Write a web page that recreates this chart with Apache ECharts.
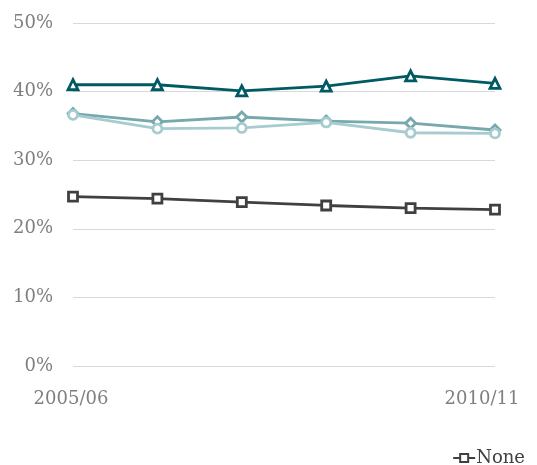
<!DOCTYPE html>
<html><head><meta charset="utf-8">
<script src="https://cdn.jsdelivr.net/npm/echarts@6/dist/echarts.min.js"></script>
<style>html,body{margin:0;padding:0;background:#fff}#c{width:537px;height:465px}</style>
</head><body><div id="c"></div>
<script>
const categories = ['2005/06','2006/07','2007/08','2008/09','2009/10','2010/11'];
const seriesA = [41.0, 41.0, 40.1, 40.8, 42.3, 41.2];   // triangles, dark teal
const seriesB = [36.8, 35.6, 36.3, 35.7, 35.4, 34.4];   // diamonds, mid teal
const seriesC = [36.6, 34.6, 34.7, 35.5, 34.0, 33.9];   // circles, light teal
const seriesNone = [24.7, 24.4, 23.9, 23.4, 23.0, 22.8]; // squares, dark grey
const yTicks = [0, 10, 20, 30, 40, 50];

const font = 'DejaVu Serif';
function mk(name, data, color, symbol, size) {
  return {
    name, type: 'line', data, symbol, symbolSize: size,
    lineStyle: { color, width: 2.8 },
    itemStyle: { color: '#fff', borderColor: color, borderWidth: 2.8 },
    z: 3
  };
}
const chart = echarts.init(document.getElementById('c'));
chart.setOption({
  animation: false,
  textStyle: { fontFamily: font },
  grid: { left: 73, right: 42, top: 23, bottom: 99, containLabel: false },
  legend: {
    data: ['None'], right: 7, top: 444, itemWidth: 22, itemHeight: 10, itemGap: 4,
    textStyle: { fontFamily: font, fontSize: 18, color: '#404040', padding: [0,0,0,-4] }
  },
  xAxis: {
    type: 'category', data: categories, boundaryGap: false,
    axisLine: { show: false }, axisTick: { show: false },
    axisLabel: {
      interval: 0, margin: 24, fontFamily: font, fontSize: 18, color: '#7f7f7f',
      formatter: (v, i) => i === 0 ? '{a|' + v + '}' : (i === categories.length - 1 ? '{b|' + v + '}' : ''),
      rich: {
        a: { fontFamily: font, fontSize: 18, color: '#7f7f7f', padding: [0, 4, 0, 0] },
        b: { fontFamily: font, fontSize: 18, color: '#7f7f7f', padding: [0, 26, 0, 0] }
      }
    }
  },
  yAxis: {
    type: 'value', min: yTicks[0], max: yTicks[yTicks.length - 1], interval: 10,
    axisLine: { show: false }, axisTick: { show: false },
    splitLine: { lineStyle: { color: '#d9d9d9', width: 1 } },
    axisLabel: { margin: 20, fontFamily: font, fontSize: 18, color: '#7f7f7f', formatter: '{value}%' }
  },
  series: [
    mk('Series A', seriesA, '#005a63', 'triangle', 10),
    mk('Series B', seriesB, '#76a8ad', 'diamond', 10),
    mk('Series C', seriesC, '#a7cccf', 'circle', 9),
    mk('None', seriesNone, '#404040', 'rect', 9)
  ]
});
</script></body></html>
